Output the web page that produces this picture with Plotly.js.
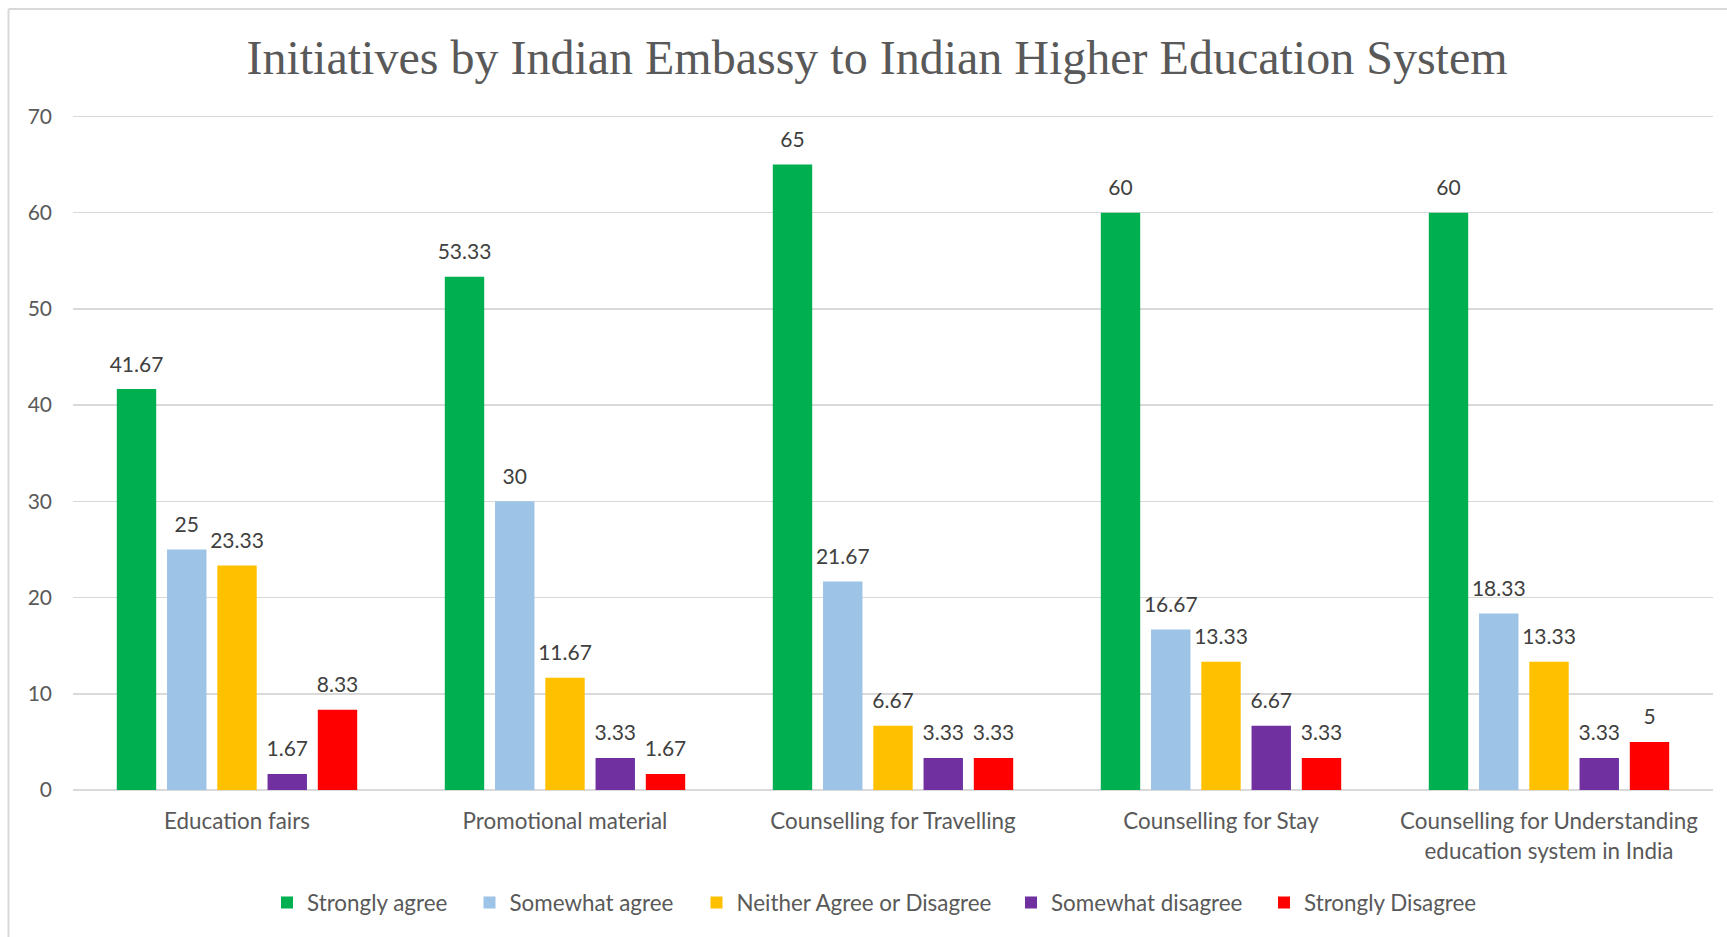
<!DOCTYPE html>
<html>
<head>
<meta charset="utf-8">
<script src="https://cdn.plot.ly/plotly-3.0.1.min.js"></script>
<style>html,body{margin:0;padding:0;background:#fff;}#chart{width:1727px;height:937px;}</style>
</head>
<body>
<div id="chart"></div>
<script>
const categories = ["Education fairs", "Promotional material", "Counselling for Travelling", "Counselling for Stay", "Counselling for Understanding<br>education system in India"];
const seriesNames = ["Strongly agree", "Somewhat agree", "Neither Agree or Disagree", "Somewhat disagree", "Strongly Disagree"];
const stronglyAgree = [41.67, 53.33, 65, 60, 60];
const somewhatAgree = [25, 30, 21.67, 16.67, 18.33];
const neither = [23.33, 11.67, 6.67, 13.33, 13.33];
const somewhatDisagree = [1.67, 3.33, 3.33, 6.67, 3.33];
const stronglyDisagree = [8.33, 1.67, 3.33, 3.33, 5];
const yTicks = [0, 10, 20, 30, 40, 50, 60, 70];

const seriesValues = [stronglyAgree, somewhatAgree, neither, somewhatDisagree, stronglyDisagree];
const colors = ["#00B050", "#9DC3E6", "#FFC000", "#7030A0", "#FF0000"];
const legendTextStarts = [307, 509.5, 736.5, 1051, 1304];

const W = 1727, H = 937;
const mL = 73, mR = 14, mT = 114, mB = 147;
const pw = W - mL - mR, ph = H - mT - mB;
const FONT = "Lato, 'Open Sans', sans-serif";
const FS_TEXT = 22.4;
const FS_NUM = 21;

const traces = [];
seriesValues.forEach((vals, i) => {
  traces.push({
    type: 'bar', x: categories, y: vals, name: seriesNames[i],
    marker: {color: colors[i], line: {width: 0}},
    offsetgroup: 'g' + i, hoverinfo: 'skip',
    legend: i === 0 ? 'legend' : 'legend' + (i + 1)
  });
});
seriesValues.forEach((vals, i) => {
  traces.push({
    type: 'scatter', mode: 'markers+text', x: categories, y: vals,
    text: vals.map(v => String(v)), textposition: 'top center',
    textfont: {family: FONT, size: FS_NUM, color: '#404040'},
    marker: {size: 18, color: 'rgba(0,0,0,0)'},
    offsetgroup: 'g' + i, showlegend: false, hoverinfo: 'skip', cliponaxis: false
  });
});

const layout = {
  width: W, height: H,
  margin: {l: mL, r: mR, t: mT, b: mB, autoexpand: false},
  paper_bgcolor: '#ffffff', plot_bgcolor: '#ffffff',
  barmode: 'group', bargap: 0.234, bargroupgap: 0.216,
  scattermode: 'group', scattergap: 0.234,
  font: {family: FONT, size: FS_TEXT, color: '#595959'},
  title: {
    text: 'Initiatives by Indian Embassy to Indian Higher Education System',
    font: {family: "'Liberation Serif', 'Times New Roman', serif", size: 48, color: '#595959'},
    x: 877 / W, xanchor: 'center', xref: 'container',
    y: 1 - 57.5 / H, yanchor: 'middle', yref: 'container'
  },
  xaxis: {
    type: 'category', showgrid: false, showline: false, ticks: '',
    tickfont: {family: FONT, size: FS_TEXT, color: '#595959'},
    ticklabelstandoff: 16, fixedrange: true
  },
  yaxis: {
    range: [0, 70.25], tickvals: yTicks, ticktext: yTicks.map(String),
    showgrid: true, gridcolor: '#d9d9d9', gridwidth: 1.5,
    zeroline: true, zerolinecolor: '#d9d9d9', zerolinewidth: 2,
    showline: false, ticks: '', ticklabelstandoff: 20,
    tickfont: {family: FONT, size: FS_NUM, color: '#595959'}, fixedrange: true
  },
  shapes: [
    {type: 'line', xref: 'paper', yref: 'paper', x0: (8.5 - mL) / pw, x1: (8.5 - mL) / pw, y0: (mT + ph - 9) / ph, y1: -0.3, line: {color: '#d9d9d9', width: 2}},
    {type: 'line', xref: 'paper', yref: 'paper', x0: (8.5 - mL) / pw, x1: 1.05, y0: (mT + ph - 9) / ph, y1: (mT + ph - 9) / ph, line: {color: '#d9d9d9', width: 2}}
  ],
  showlegend: true
};
legendTextStarts.forEach((xs, i) => {
  const key = i === 0 ? 'legend' : 'legend' + (i + 1);
  layout[key] = {
    x: (xs - 40 - mL) / pw, xanchor: 'left',
    y: (mT + ph - 903) / ph, yanchor: 'middle',
    orientation: 'h', bgcolor: 'rgba(0,0,0,0)', borderwidth: 0,
    font: {family: FONT, size: FS_TEXT, color: '#595959'}
  };
});

Plotly.newPlot('chart', traces, layout, {displayModeBar: false, staticPlot: true});
</script>
</body>
</html>
